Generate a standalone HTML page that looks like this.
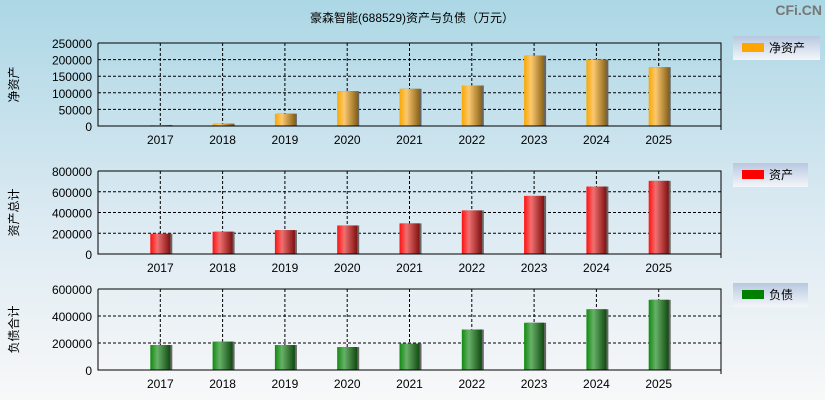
<!DOCTYPE html>
<html><head><meta charset="utf-8">
<style>
html,body{margin:0;padding:0;}
body{width:825px;height:400px;overflow:hidden;font-family:"Liberation Sans","Noto Sans CJK SC",sans-serif;}
</style></head>
<body>
<svg id="chart" width="825" height="400" xmlns="http://www.w3.org/2000/svg" font-family="Liberation Sans, Noto Sans CJK SC, sans-serif">
<defs>
<linearGradient id="bg" x1="0" y1="0" x2="0" y2="1"><stop offset="0" stop-color="#acd7e5"/><stop offset="0.55" stop-color="#dceaf2"/><stop offset="1" stop-color="#f8f8f8"/></linearGradient>
<linearGradient id="gO" x1="0" x2="1"><stop offset="0" stop-color="#f8a800"/><stop offset="0.35" stop-color="#fcc870"/><stop offset="1" stop-color="#8a6418"/></linearGradient>
<linearGradient id="gR" x1="0" x2="1"><stop offset="0" stop-color="#ff1010"/><stop offset="0.35" stop-color="#f07070"/><stop offset="1" stop-color="#801010"/></linearGradient>
<linearGradient id="gG" x1="0" x2="1"><stop offset="0" stop-color="#108a10"/><stop offset="0.35" stop-color="#68b068"/><stop offset="1" stop-color="#104a10"/></linearGradient>
<linearGradient id="lg" x1="0" y1="0" x2="0" y2="1"><stop offset="0" stop-color="#b8c8e0"/><stop offset="1" stop-color="#f4f6fa"/></linearGradient>
</defs>
<rect width="825" height="400" fill="url(#bg)"/>
<text x="412" y="22" text-anchor="middle" font-size="12" fill="#000">豪森智能(688529)资产与负债（万元）</text>
<text x="822" y="15" text-anchor="end" font-size="14" font-weight="bold" fill="#777">CFi.CN</text>
<g id="panels"></g>
</svg>
<script>
const categories = ["2017","2018","2019","2020","2021","2022","2023","2024","2025"];
const netAssets = [3000,7000,37000,105000,112000,122000,212000,200000,177000];
const totalAssets = [195000,215000,230000,275000,295000,420000,560000,650000,705000];
const liabilities = [185000,210000,185000,170000,195000,300000,350000,450000,520000];
const ticks1 = [0,50000,100000,150000,200000,250000];
const ticks2 = [0,200000,400000,600000,800000];
const ticks3 = [0,200000,400000,600000];

const NS="http://www.w3.org/2000/svg";
const root=document.getElementById('panels');
const L=98,R=721,slot=(R-L)/10;
function mk(t,a,p){const e=document.createElementNS(NS,t);for(const k in a)e.setAttribute(k,a[k]);(p||root).appendChild(e);return e;}
function xPos(i){return L+(i+1)*slot;}
function panel(key,top,bot,ticks,vals,fill,legendColor,yTitle,legendText,lgY,lgW){
  const max=ticks[ticks.length-1];
  const y=v=>bot-(v/max)*(bot-top);
  const g=mk('g',{});
  
  
  ticks.forEach(t=>{
    const yy=y(t);
    if(t>0){const l=mk('line',{x1:L,x2:R,y1:yy,y2:yy,stroke:'#000','stroke-dasharray':'3,2','stroke-width':1},g);
      
      }
    const tx=mk('text',{x:L-6,y:yy+5,'text-anchor':'end','font-size':12,fill:'#000'},g);
    tx.textContent=t;
    
    
  });
  categories.forEach((c,i)=>{
    const xx=xPos(i);
    const l=mk('line',{x1:xx,x2:xx,y1:top,y2:bot,stroke:'#000','stroke-dasharray':'3,2'},g);
    
    
    const tx=mk('text',{x:xx,y:bot+18,'text-anchor':'middle','font-size':12,fill:'#000'},g);
    tx.textContent=c;
    
    
    const yv=y(vals[i]);
    const sh=mk('rect',{x:xx-10+2,y:yv,width:20,height:bot-yv,fill:'#666'},g);
    
    
    const b=mk('rect',{x:xx-10,y:yv,width:20,height:bot-yv,fill:fill},g);
    
    
  });
  const fr=mk('path',{d:`M${L} ${top}H${R}V${bot+4}M${L} ${top}V${bot}H${R}`,fill:'none',stroke:'#000'},g);
  
  
  const fr2=mk('line',{x1:L,x2:R,y1:top,y2:top,stroke:'#000','stroke-dasharray':'3,2'},g);
  
  
  const cy=(top+bot)/2;
  const yt=mk('text',{x:0,y:0,'text-anchor':'middle','font-size':12,fill:'#000',transform:`translate(18,${cy}) rotate(-90)`},g);
  yt.textContent=yTitle;
  
  
  const lg=mk('g',{},g);
  
  
  mk('rect',{x:733,y:lgY,width:lgW,height:24,fill:'url(#lg)'},lg);
  mk('rect',{x:742,y:lgY+7,width:22,height:9,fill:legendColor},lg);
  const lt=mk('text',{x:769,y:lgY+16,'font-size':12,fill:'#000'},lg);
  lt.textContent=legendText;
}
panel('net-assets',43,126,ticks1,netAssets,'url(#gO)','#ffa500','净资产','净资产',36,87);
panel('total-assets',171,254,ticks2,totalAssets,'url(#gR)','#ff0000','资产总计','资产',163,75);
panel('liabilities',289,370,ticks3,liabilities,'url(#gG)','#008000','负债合计','负债',283,75);
</script>
</body></html>
